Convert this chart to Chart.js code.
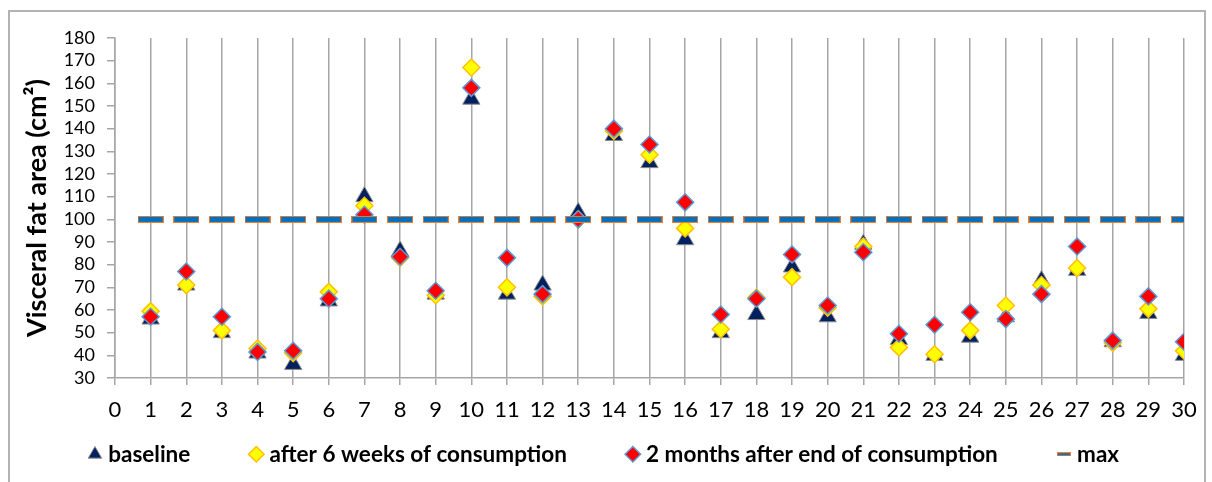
<!DOCTYPE html>
<html>
<head>
<meta charset="utf-8">
<script src="https://cdn.jsdelivr.net/npm/chart.js@4.4.0/dist/chart.umd.min.js"></script>
<style>
html,body{margin:0;padding:0;background:#fff;overflow:hidden;}
#wrap{position:relative;width:1212px;height:482px;}
#frame{position:absolute;left:8px;top:10px;width:1198px;height:500px;border:2px solid #B3B3B3;box-sizing:border-box;pointer-events:none;}
canvas{position:absolute;left:0;top:0;}
</style>
</head>
<body>
<div id="wrap">
<canvas id="c" width="1212" height="482"></canvas>
<div id="frame"></div>
</div>
<script>
const subjects = [1,2,3,4,5,6,7,8,9,10,11,12,13,14,15,16,17,18,19,20,21,22,23,24,25,26,27,28,29,30];
const baseline = [56,71,50,41,36,64,110,86,67,153,67,71,103,137,125,91,50,58,79,57,89,47,40,48,57,73,77.5,46,58.5,40];
const after6weeks = [59.5,71,51,43,41,68,106,83,66.5,167,70,66,100,139,128.5,96,51.5,65.5,74.5,61,88,43.5,40.5,51,62,71,78.5,45.5,60.5,42];
const after2months = [57,77,57,41.5,42,65,102,83.5,68.5,158,83,67,100,140,133,107.5,58,65,84.5,62,85.5,49.5,53.5,59,56,67,88,46.5,66,46];
const maxValue = [100,100,100,100,100,100,100,100,100,100,100,100,100,100,100,100,100,100,100,100,100,100,100,100,100,100,100,100,100,100];
const seriesNames = ['baseline','after 6 weeks of consumption','2 months after end of consumption','max'];
const yTitle = 'Visceral fat area (cm\u00B2)';

function dash(w,h){
  const cv=document.createElement('canvas');cv.width=w;cv.height=h;
  const g=cv.getContext('2d');
  g.fillStyle='#ED7D31';g.fillRect(0,0,w,h);
  g.fillStyle='#0070C0';g.fillRect(1,1,w-2,h-2);
  return cv;
}
const maxMarker = dash(26,7);
const maxLegend = dash(14,4);

const pts = arr => subjects.map((s,i)=>({x:s,y:arr[i]}));
const FONT='Lato';
const LEG_PAD = 64, LEG_H = 45, LEG_SHIFT = 58, LEG_DX = 5;

const chart = new Chart(document.getElementById('c'),{
  type:'scatter',
  data:{datasets:[
    {label:seriesNames[0],data:pts(baseline),pointStyle:'triangle',pointRadius:10,pointHoverRadius:10,
     backgroundColor:'#002060',borderColor:'#8C8C8C',borderWidth:1,order:4},
    {label:seriesNames[1],data:pts(after6weeks),pointStyle:'rectRot',pointRadius:8.5,pointHoverRadius:8.5,
     backgroundColor:'#FFFF00',borderColor:'#FFC000',borderWidth:1.5,order:3},
    {label:seriesNames[2],data:pts(after2months),pointStyle:'rectRot',pointRadius:8.5,pointHoverRadius:8.5,
     backgroundColor:'#FF0000',borderColor:'#5B9BD5',borderWidth:1.5,order:2},
    {label:seriesNames[3],data:pts(maxValue),pointStyle:maxMarker,
     backgroundColor:'#0070C0',borderColor:'#ED7D31',borderWidth:1,order:1}
  ]},
  options:{
    responsive:false,animation:false,devicePixelRatio:1,
    layout:{padding:{left:18,right:28,top:38,bottom:0}},
    plugins:{
      tooltip:{enabled:false},
      legend:{position:'bottom',
        labels:{usePointStyle:true,boxWidth:4,boxHeight:11,padding:LEG_PAD,color:'#000',
          font:{family:FONT,size:22.5,weight:'bold'},
          generateLabels(chart){
            const items=Chart.defaults.plugins.legend.labels.generateLabels(chart);
            items.forEach(it=>{ if(it.datasetIndex===3){ it.pointStyle=maxLegend; } });
            items.sort((a,b)=>a.datasetIndex-b.datasetIndex);
            return items;
          }}}
    },
    scales:{
      x:{type:'linear',min:0,max:30,
        ticks:{stepSize:1,color:'#000',font:{family:FONT,size:22},padding:12,maxRotation:0,autoSkip:false},
        grid:{color:'#A6A6A6',lineWidth:1.5,tickLength:7},
        border:{color:'#A6A6A6',width:1.5},
        afterFit(s){ s.height=59; }
      },
      y:{min:30,max:180,
        ticks:{stepSize:10,color:'#000',font:{family:FONT,size:18},padding:12,autoSkip:false},
        grid:{drawOnChartArea:false,color:'#A6A6A6',lineWidth:1.5,tickLength:8},
        border:{color:'#A6A6A6',width:1.5},
        title:{display:true,text:yTitle,color:'#000',font:{family:FONT,size:27,weight:'bold'},padding:{top:3,bottom:0}},
        afterFit(s){ s.width=97; }
      }
    }
  }
});
// keep legend compact vertically while keeping wide horizontal spacing between items
const lg = chart.legend;
const origFit = lg.fit.bind(lg);
lg.fit = function(){ origFit(); this.height = LEG_H; };
const origDraw = lg.draw.bind(lg);
lg.draw = function(){
  const t=this.top, l=this.left, r=this.right;
  this.top = t - LEG_SHIFT; this.left = l + LEG_DX; this.right = r + LEG_DX;
  origDraw();
  this.top = t; this.left = l; this.right = r;
};
chart.update();
</script>
</body>
</html>
